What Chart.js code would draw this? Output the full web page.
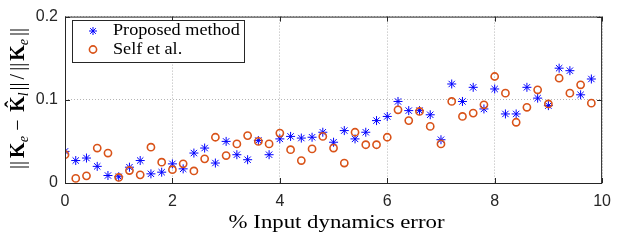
<!DOCTYPE html>
<html>
<head>
<meta charset="utf-8">
<script src="https://cdn.jsdelivr.net/npm/chart.js@4"></script>
<style>
  html, body { margin: 0; padding: 0; background: #fff; }
  #wrap { width: 620px; height: 240px; }
</style>
</head>
<body>
<div id="wrap"><canvas id="grafico"></canvas></div>
<script>
// % Input dynamics error (x positions of both series)
const inputError = [
  0, 0.2, 0.4, 0.6, 0.8, 1.0, 1.2, 1.4, 1.6, 1.8,
  2.0, 2.2, 2.4, 2.6, 2.8, 3.0, 3.2, 3.4, 3.6, 3.8,
  4.0, 4.2, 4.4, 4.6, 4.8, 5.0, 5.2, 5.4, 5.6, 5.8,
  6.0, 6.2, 6.4, 6.6, 6.8, 7.0, 7.2, 7.4, 7.6, 7.8,
  8.0, 8.2, 8.4, 8.6, 8.8, 9.0, 9.2, 9.4, 9.6, 9.8
];

// Proposed method
const proposed = [
  0.038, 0.027, 0.030, 0.020, 0.009, 0.0075, 0.019, 0.027, 0.011, 0.013,
  0.023, 0.017, 0.036, 0.042, 0.024, 0.050, 0.034, 0.028, 0.051, 0.034,
  0.053, 0.056, 0.054, 0.055, 0.061, 0.049, 0.063, 0.053, 0.061, 0.075,
  0.080, 0.098, 0.087, 0.087, 0.082, 0.052, 0.119, 0.098, 0.115, 0.089,
  0.113, 0.083, 0.083, 0.115, 0.102, 0.093, 0.138, 0.135, 0.106, 0.125
];

// Self et al.
const selfEtAl = [
  0.034, 0.0055, 0.0086, 0.042, 0.036, 0.0067, 0.015, 0.0098, 0.043, 0.025,
  0.016, 0.023, 0.0145, 0.029, 0.055, 0.033, 0.047, 0.057, 0.050, 0.047,
  0.060, 0.040, 0.027, 0.041, 0.056, 0.042, 0.024, 0.061, 0.046, 0.046,
  0.055, 0.088, 0.075, 0.086, 0.068, 0.047, 0.098, 0.080, 0.084, 0.094,
  0.128, 0.108, 0.073, 0.091, 0.112, 0.095, 0.126, 0.108, 0.118, 0.096
];

const seriesNames = ["Proposed method", "Self et al."];
const xTicks = [0, 2, 4, 6, 8, 10];
const yTicks = [0, 0.1, 0.2];

const colorAzul = "#0000ff";
const colorNaranja = "#d95319";
const colorEje = "#262626";
const serif = "'Liberation Serif', 'DejaVu Serif', serif";
const sans = "'Liberation Sans', Arial, sans-serif";

const toPoints = (ys) => inputError.map((x, i) => ({ x: x, y: ys[i] }));

// texto serif algo ensanchado (para parecerse a Computer Modern)
function textoAncho(ctx, texto, x, y, font, sx, align) {
  ctx.save();
  ctx.font = font;
  const w = ctx.measureText(texto).width * sx;
  const x0 = align === "center" ? x - w / 2 : x;
  ctx.translate(x0, y);
  ctx.scale(sx, 1);
  ctx.textAlign = "left";
  ctx.textBaseline = "alphabetic";
  ctx.fillText(texto, 0, 0);
  ctx.restore();
}

// Caja de ejes, marcas hacia dentro, leyenda y títulos estilo MATLAB
const estiloMatlab = {
  id: "estiloMatlab",
  afterDatasetsDraw(chart) {
    const { ctx, chartArea: a, scales } = chart;
    ctx.save();
    ctx.strokeStyle = colorEje;
    ctx.lineWidth = 1;
    ctx.strokeRect(a.left + 0.5, a.top + 0.5, a.right - a.left - 1, a.bottom - a.top);
    ctx.beginPath();
    xTicks.forEach((t) => {
      const px = Math.round(scales.x.getPixelForValue(t)) + 0.5;
      ctx.moveTo(px, a.bottom); ctx.lineTo(px, a.bottom - 5);
      ctx.moveTo(px, a.top); ctx.lineTo(px, a.top + 5);
    });
    yTicks.forEach((t) => {
      const py = Math.round(scales.y.getPixelForValue(t)) + 0.5;
      ctx.moveTo(a.left, py); ctx.lineTo(a.left + 5, py);
      ctx.moveTo(a.right, py); ctx.lineTo(a.right - 5, py);
    });
    ctx.stroke();
    ctx.restore();
  },
  afterDraw(chart) {
    const { ctx, chartArea: a } = chart;
    ctx.save();

    // leyenda
    const lx = 72, ly = 20, lw = 172, lh = 42;
    ctx.fillStyle = "#fff";
    ctx.fillRect(lx, ly, lw, lh);
    ctx.strokeStyle = colorEje;
    ctx.lineWidth = 1;
    ctx.strokeRect(lx + 0.5, ly + 0.5, lw, lh);
    ctx.fillStyle = "#000";
    textoAncho(ctx, seriesNames[0], 113, 35, "17px " + serif, 1.07, "left");
    textoAncho(ctx, seriesNames[1], 113, 54, "17px " + serif, 1.07, "left");
    // marcador asterisco
    ctx.strokeStyle = colorAzul;
    ctx.lineWidth = 1;
    ctx.beginPath();
    const r = 4, mx = 93, my = 31;
    for (let k = 0; k < 4; k++) {
      const ang = (k * Math.PI) / 4;
      ctx.moveTo(mx - r * Math.cos(ang), my - r * Math.sin(ang));
      ctx.lineTo(mx + r * Math.cos(ang), my + r * Math.sin(ang));
    }
    ctx.stroke();
    // marcador círculo
    ctx.strokeStyle = colorNaranja;
    ctx.lineWidth = 1.6;
    ctx.beginPath();
    ctx.arc(93, 49.5, 3.6, 0, Math.PI * 2);
    ctx.stroke();

    // título eje x
    ctx.fillStyle = "#000";
    textoAncho(ctx, "% Input dynamics error", (a.left + a.right) / 2 + 3, 228, "19px " + serif, 1.2, "center");

    // título eje y: ‖K_e − K̂_l‖/‖K_e‖
    const f = "20px " + serif, fb = "bold 20px " + serif, fs = "italic 14px " + serif;
    const piezas = [
      { t: "||", f: f, dy: 0, gap: 3 },
      { t: "K", f: fb, dy: 0, gap: 0 },
      { t: "e", f: fs, dy: 4, gap: 3 },
      { t: "\u2212", f: f, dy: 0, gap: 5 },
      { t: "K\u0302", f: fb, dy: 0, gap: 0 },
      { t: "l", f: fs, dy: 4, gap: 2 },
      { t: "||", f: f, dy: 0, gap: 3 },
      { t: "/", f: f, dy: 0, gap: 3 },
      { t: "||", f: f, dy: 0, gap: 2 },
      { t: "K", f: fb, dy: 0, gap: 0 },
      { t: "e", f: fs, dy: 4, gap: 3 },
      { t: "||", f: f, dy: 0, gap: 0 }
    ];
    let total = 0;
    piezas.forEach((p) => {
      ctx.font = p.f;
      p.w = ctx.measureText(p.t).width;
      if (p.t === "\u2212") p.w += 5;
      total += p.w + p.gap;
    });
    ctx.translate(23.5, 98.5);
    ctx.rotate(-Math.PI / 2);
    ctx.textAlign = "left";
    ctx.textBaseline = "alphabetic";
    let cx = -total / 2;
    piezas.forEach((p) => {
      ctx.font = p.f;
      ctx.fillText(p.t, p.t === "\u2212" ? cx + 2.5 : cx, p.dy);
      cx += p.w + p.gap;
    });
    ctx.restore();
  }
};

function crearGrafico() {
  const ctx = document.getElementById("grafico").getContext("2d");
  new Chart(ctx, {
    type: "scatter",
    data: {
      datasets: [
        {
          label: seriesNames[0],
          data: toPoints(proposed),
          pointStyle: "star",
          pointRadius: 4.5,
          borderColor: colorAzul,
          backgroundColor: colorAzul,
          borderWidth: 1,
          order: 2
        },
        {
          label: seriesNames[1],
          data: toPoints(selfEtAl),
          pointStyle: "circle",
          pointRadius: 3.6,
          borderColor: colorNaranja,
          backgroundColor: "rgba(0,0,0,0)",
          borderWidth: 1.6,
          order: 1
        }
      ]
    },
    options: {
      responsive: false,
      animation: false,
      layout: { padding: { left: 0, right: 15, top: 13, bottom: 0 } },
      plugins: { legend: { display: false }, tooltip: { enabled: false } },
      scales: {
        x: {
          type: "linear",
          min: 0,
          max: 10,
          afterBuildTicks: (s) => { s.ticks = xTicks.map((v) => ({ value: v })); },
          afterFit: (s) => { s.height = 57; },
          ticks: { color: colorEje, font: { family: sans, size: 16 }, padding: 9 },
          grid: { color: "#b4b4b4", drawTicks: false, lineWidth: 1 },
          border: { display: false, dash: [1, 2] }
        },
        y: {
          min: 0,
          max: 0.2,
          afterBuildTicks: (s) => { s.ticks = yTicks.map((v) => ({ value: v })); },
          afterFit: (s) => { s.width = 65; },
          ticks: { color: colorEje, font: { family: sans, size: 16 }, padding: 7,
                   callback: (v) => String(v) },
          grid: { color: "#b4b4b4", drawTicks: false, lineWidth: 1 },
          border: { display: false, dash: [1, 2] }
        }
      }
    },
    plugins: [estiloMatlab]
  });
}

document.addEventListener("DOMContentLoaded", () => {
  const c = document.getElementById("grafico");
  c.width = 620;
  c.height = 240;
  crearGrafico();
});
</script>
</body>
</html>
